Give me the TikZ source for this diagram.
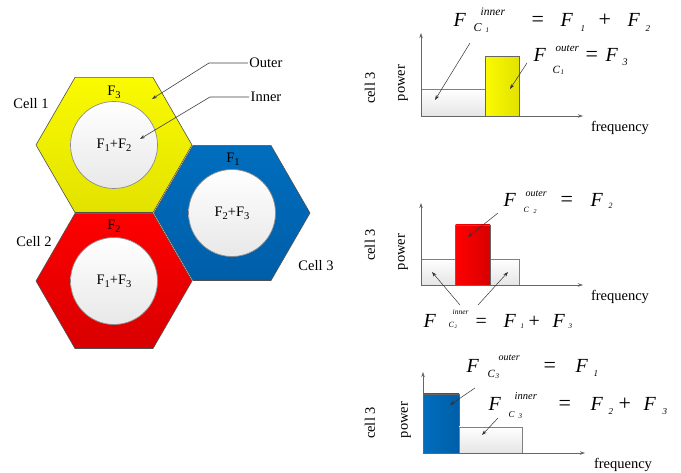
\documentclass[tikz,border=0pt]{standalone}
\usepackage{fontspec}
\setmainfont{Liberation Serif}
\usetikzlibrary{shapes.geometric,arrows.meta}
\newcommand\sz[1]{\fontsize{#1}{#1}\selectfont}
\newcommand\putat[4]{\rlap{\hspace{#1pt}\raisebox{#2pt}{\sz{#3}#4}}}
\newcommand\Fs[1]{F\raisebox{-0.22em}{\sz{10.5}#1}}
\definecolor{yel1}{RGB}{250,250,0}
\definecolor{yel2}{RGB}{226,226,0}
\definecolor{red1}{RGB}{255,0,0}
\definecolor{red2}{RGB}{216,0,0}
\definecolor{blu1}{RGB}{0,110,190}
\definecolor{blu2}{RGB}{0,94,168}
\definecolor{edge}{RGB}{80,80,80}
\tikzset{
  hexa/.style={regular polygon, regular polygon sides=6, minimum size=156pt,
    inner sep=0pt, outer sep=0pt, draw=edge, line width=0.6pt},
  disc/.style={circle, minimum size=87pt, inner sep=0pt, draw=black!45,
    line width=0.7pt, top color=white, bottom color=black!9, font=\sz{14.5}},
  lbl/.style={font=\sz{14.5}, inner sep=1.5pt},
  lead/.style={draw=black!75, line width=0.6pt, -{Stealth[length=5pt,width=3.5pt]}},
  axis/.style={draw=black!60, line width=0.7pt, -{Stealth[length=5pt,width=3.5pt]}},
  ptr/.style={draw=black!80, line width=0.5pt, -{Stealth[length=5pt,width=3.5pt]}},
  innerbox/.style={draw=black!50, line width=0.6pt, top color=white, bottom color=black!10},
  formula/.style={anchor=base west, inner sep=0pt},
}
\begin{document}
\begin{tikzpicture}[x=1pt,y=-1pt]
\useasboundingbox (0,0) rectangle (681,473);
% ---- hexagons
\node[hexa, top color=yel1, bottom color=yel2] (h1) at (114,145) {};
\node[hexa, top color=red1, bottom color=red2] (h2) at (114,281) {};
\node[hexa, top color=blu1, bottom color=blu2] (h3) at (232,213) {};
\node[disc] (d1) at (114,145) {\Fs{1}+\Fs{2}};
\node[disc] (d2) at (114,281) {\Fs{1}+\Fs{3}};
\node[disc] (d3) at (232,213) {\Fs{2}+\Fs{3}};
\node[lbl] (o1) at (114,92) {\Fs{3}};
\node[lbl] (o2) at (114,226) {\Fs{2}};
\node[lbl] (o3) at (233,159) {\Fs{1}};
\node[lbl] (cell1) at (31,104) {Cell 1};
\node[lbl] (cell2) at (34,242) {Cell 2};
\node[lbl] (cell3) at (316,266) {Cell 3};
\node[lbl] (outer) at (266,63) {Outer};
\node[lbl] (inner) at (266,97) {Inner};
\coordinate (ob) at (209,63);
\coordinate (oe) at (152,99);
\coordinate (ib) at (210,97);
\coordinate (ie) at (140,139);
\draw[lead] (outer.west) -- (ob) -- (oe);
\draw[lead] (inner.west) -- (ib) -- (ie);
% ---- chart 1
\draw[innerbox] (421,89) rectangle (485.7,116);
\draw[draw=black!60, line width=0.6pt, left color=yel1, right color=yel2] (485.7,56.7) rectangle (519,116);
\coordinate (a1o) at (421,116);
\coordinate (a1y) at (421,33);
\coordinate (a1x) at (583,116);
\draw[axis] (a1o) -- (a1y);
\draw[axis] (a1o) -- (a1x);
\node[lbl, rotate=90] (pw1) at (403,83) {power};
\node[lbl, rotate=90] (cl1) at (370,88) {cell 3};
\node[lbl] (fq1) at (620,128) {frequency};
\node[formula] (eq1) at (453,27) {\putat{0}{0}{20}{\itshape F}\putat{27}{11}{11.5}{\itshape inner}\putat{20}{-5}{12}{\itshape C}\putat{32}{-6}{7}{\itshape 1}\putat{78}{0}{22}{=}\putat{107}{0}{20}{\itshape F}\putat{127}{-5}{9}{\itshape 1}\putat{145}{0}{22}{+}\putat{174}{0}{20}{\itshape F}\putat{192}{-5}{9}{\itshape 2}\hspace{200pt}};
\node[formula] (eq2) at (533,62) {\putat{0}{0}{20}{\itshape F}\putat{22}{10}{11}{\itshape outer}\putat{19}{-12}{11}{\itshape C}\putat{27}{-13}{7}{\itshape 1}\putat{52}{0}{22}{=}\putat{72}{0}{20}{\itshape F}\putat{89}{-4}{10}{\itshape 3}\hspace{95pt}};
\coordinate (p1a) at (470,43);
\coordinate (p1b) at (435,100);
\coordinate (p2a) at (527,63);
\coordinate (p2b) at (510,89);
\draw[ptr] (p1a) -- (p1b);
\draw[ptr] (p2a) -- (p2b);
% ---- chart 2
\draw[innerbox] (421,259) rectangle (519,285);
\draw[draw=black!60, line width=0.6pt, left color=red1, right color=red2] (455.7,225) rectangle (490,285);
\coordinate (a2o) at (421,285);
\coordinate (a2y) at (421,203);
\coordinate (a2x) at (583,285);
\draw[axis] (a2o) -- (a2y);
\draw[axis] (a2o) -- (a2x);
\node[lbl, rotate=90] (pw2) at (403,252) {power};
\node[lbl, rotate=90] (cl2) at (370,245) {cell 3};
\node[lbl] (fq2) at (620,297) {frequency};
\node[formula] (eq3) at (503,207) {\putat{0}{0}{20}{\itshape F}\putat{22}{10}{10}{\itshape outer}\putat{20}{-6}{8}{\itshape C}\putat{30}{-7}{6}{\itshape 2}\putat{57}{0}{22}{=}\putat{87}{0}{20}{\itshape F}\putat{105}{-2}{8}{\itshape 2}\hspace{112pt}};
\node[formula] (eq4) at (423,328) {\putat{0}{0}{20}{\itshape F}\putat{29}{13}{7.5}{\itshape inner}\putat{25}{0}{8}{\itshape C}\putat{31}{-1}{5}{\itshape 2}\putat{52}{0}{20}{=}\putat{80}{0}{20}{\itshape F}\putat{97}{-1}{7}{\itshape 1}\putat{105}{0}{20}{+}\putat{129}{0}{20}{\itshape F}\putat{145}{-1}{7}{\itshape 3}\hspace{150pt}};
\coordinate (p3a) at (498,213);
\coordinate (p3b) at (468,237);
\coordinate (p4a) at (460,305);
\coordinate (p4b) at (432,272);
\coordinate (p5a) at (478,305);
\coordinate (p5b) at (508,272);
\draw[ptr] (p3a) -- (p3b);
\draw[ptr] (p4a) -- (p4b);
\draw[ptr] (p5a) -- (p5b);
% ---- chart 3
\draw[draw=black!60, line width=0.6pt, left color=blu1, right color=blu2] (423,394) rectangle (459,453);
\draw[innerbox] (459,427) rectangle (522,453);
\coordinate (a3o) at (423,453);
\coordinate (a3y) at (423,372);
\coordinate (a3x) at (585,453);
\draw[axis] (a3o) -- (a3y);
\draw[axis] (a3o) -- (a3x);
\node[lbl, rotate=90] (pw3) at (406,420) {power};
\node[lbl, rotate=90] (cl3) at (370,423) {cell 3};
\node[lbl] (fq3) at (623,465) {frequency};
\node[formula] (eq5) at (466,373) {\putat{0}{0}{20}{\itshape F}\putat{32}{12}{10}{\itshape outer}\putat{21}{-5}{11}{\itshape C}\putat{29}{-6}{7}{\itshape 3}\putat{77}{0}{22}{=}\putat{109}{0}{20}{\itshape F}\putat{127}{-4}{9}{\itshape 1}\hspace{133pt}};
\node[formula] (eq6) at (488,410) {\putat{0}{0}{20}{\itshape F}\putat{26}{10}{10.5}{\itshape inner}\putat{20}{-7}{9}{\itshape C}\putat{30}{-8}{7}{\itshape 3}\putat{70}{0}{22}{=}\putat{102}{0}{20}{\itshape F}\putat{120}{-4}{9}{\itshape 2}\putat{130}{0}{22}{+}\putat{155}{0}{20}{\itshape F}\putat{174}{-4}{9}{\itshape 3}\hspace{180pt}};
\coordinate (p6a) at (475,388);
\coordinate (p6b) at (450,405);
\coordinate (p7a) at (498,418);
\coordinate (p7b) at (482,435);
\draw[ptr] (p6a) -- (p6b);
\draw[ptr] (p7a) -- (p7b);
\end{tikzpicture}
\end{document}
